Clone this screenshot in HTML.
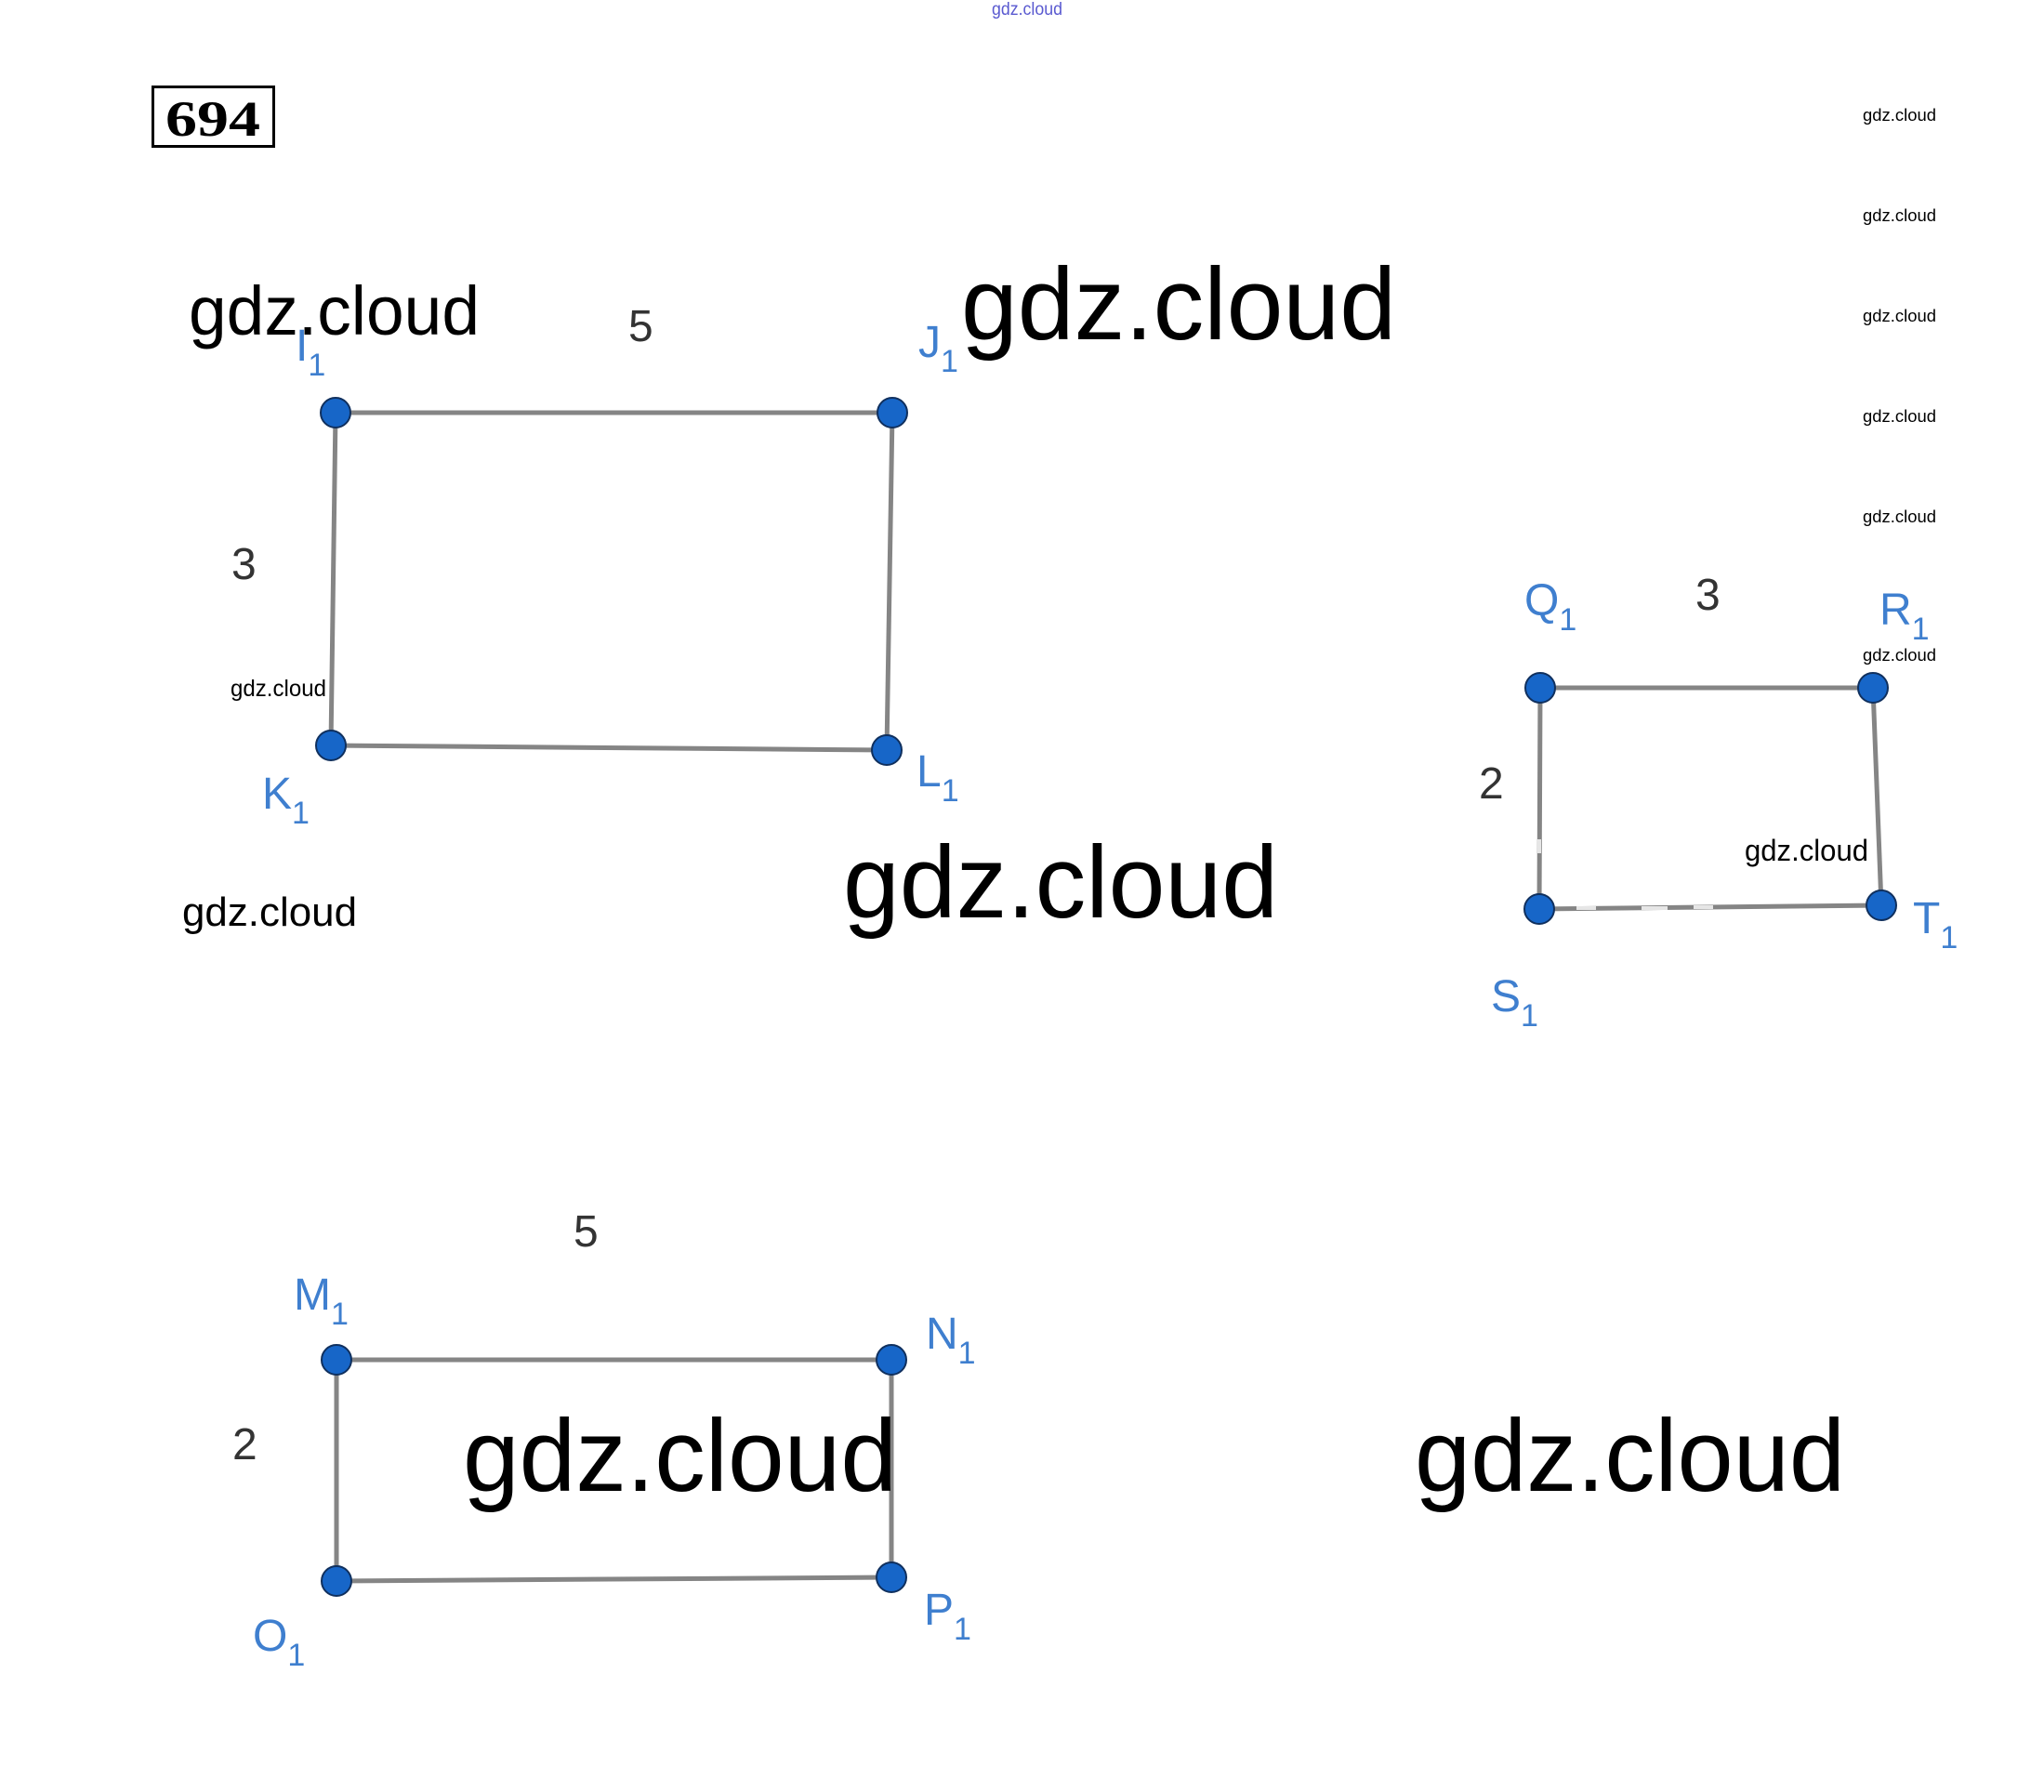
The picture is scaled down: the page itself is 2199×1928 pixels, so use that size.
<!DOCTYPE html>
<html><head><meta charset="utf-8"><style>
html,body{margin:0;padding:0;background:#fff;}
svg{display:block;}
.w{font-family:"Liberation Sans",sans-serif;fill:#000;}
.n{font-family:"Liberation Sans",sans-serif;fill:#333;font-size:48px;}
.b{font-family:"Liberation Sans",sans-serif;fill:#3f7fcf;font-size:48px;}
.s{font-size:34px;}
</style></head><body>
<svg width="2199" height="1928" viewBox="0 0 2199 1928" xmlns="http://www.w3.org/2000/svg">
<rect width="2199" height="1928" fill="#fff"/>
<text x="1067" y="16" font-family="Liberation Sans,sans-serif" font-size="19" fill="#5a5ad0" textLength="76" lengthAdjust="spacingAndGlyphs">gdz.cloud</text>
<rect x="164.5" y="93.5" width="130" height="64" fill="none" stroke="#000" stroke-width="3"/>
<text x="178" y="146" font-family="Liberation Serif,serif" font-weight="bold" font-size="54" textLength="102" lengthAdjust="spacingAndGlyphs">694</text>

<g stroke="#858585" stroke-width="5" fill="none">
<path d="M361 444 L960 444 L954 807 L356 802 Z"/>
<path d="M1657 740 L2015 740 L2024 974 L1656 978 Z"/>
<path d="M362 1463 L959 1463 L959 1697 L362 1701 Z"/>
</g>
<g stroke="#e6e6e6" stroke-width="4">
<line x1="1696" y1="977" x2="1717" y2="977"/>
<line x1="1766" y1="977" x2="1794" y2="977"/>
<line x1="1822" y1="976" x2="1843" y2="976"/>
<line x1="1656" y1="903" x2="1656" y2="918"/>
</g>
<g fill="#1766c8" stroke="#10305e" stroke-width="2">
<circle cx="361" cy="444" r="16"/><circle cx="960" cy="444" r="16"/>
<circle cx="356" cy="802" r="16"/><circle cx="954" cy="807" r="16"/>
<circle cx="1657" cy="740" r="16"/><circle cx="2015" cy="740" r="16"/>
<circle cx="1656" cy="978" r="16"/><circle cx="2024" cy="974" r="16"/>
<circle cx="362" cy="1463" r="16"/><circle cx="959" cy="1463" r="16"/>
<circle cx="362" cy="1701" r="16"/><circle cx="959" cy="1697" r="16"/>
</g>

<text class="n" x="676" y="367">5</text>
<text class="n" x="249" y="623">3</text>
<text class="n" x="1824" y="656">3</text>
<text class="n" x="1591" y="859">2</text>
<text class="n" x="617" y="1341">5</text>
<text class="n" x="250" y="1570">2</text>

<text class="b" x="318" y="388">I<tspan class="s" dy="16">1</tspan></text>
<text class="b" x="988" y="384">J<tspan class="s" dy="16">1</tspan></text>
<text class="b" x="282" y="870">K<tspan class="s" dy="16">1</tspan></text>
<text class="b" x="986" y="846">L<tspan class="s" dy="16">1</tspan></text>
<text class="b" x="1640" y="662">Q<tspan class="s" dy="16">1</tspan></text>
<text class="b" x="2022" y="672">R<tspan class="s" dy="16">1</tspan></text>
<text class="b" x="1604" y="1088">S<tspan class="s" dy="16">1</tspan></text>
<text class="b" x="2058" y="1004">T<tspan class="s" dy="16">1</tspan></text>
<text class="b" x="316" y="1409">M<tspan class="s" dy="16">1</tspan></text>
<text class="b" x="996" y="1451">N<tspan class="s" dy="16">1</tspan></text>
<text class="b" x="272" y="1776">O<tspan class="s" dy="16">1</tspan></text>
<text class="b" x="994" y="1748">P<tspan class="s" dy="16">1</tspan></text>

<g class="w">
<text x="203" y="360" font-size="74" textLength="313" lengthAdjust="spacingAndGlyphs">gdz.cloud</text>
<text x="1034" y="365" font-size="110" textLength="468" lengthAdjust="spacingAndGlyphs">gdz.cloud</text>
<text x="248" y="749" font-size="25" textLength="103" lengthAdjust="spacingAndGlyphs">gdz.cloud</text>
<text x="196" y="996" font-size="44" textLength="188" lengthAdjust="spacingAndGlyphs">gdz.cloud</text>
<text x="907" y="987" font-size="110" textLength="468" lengthAdjust="spacingAndGlyphs">gdz.cloud</text>
<text x="1877" y="926" font-size="32" textLength="133" lengthAdjust="spacingAndGlyphs">gdz.cloud</text>
<text x="498" y="1604" font-size="110" textLength="467" lengthAdjust="spacingAndGlyphs">gdz.cloud</text>
<text x="1522" y="1604" font-size="110" textLength="463" lengthAdjust="spacingAndGlyphs">gdz.cloud</text>
<text x="2004" y="130" font-size="18" textLength="79" lengthAdjust="spacingAndGlyphs">gdz.cloud</text>
<text x="2004" y="238" font-size="18" textLength="79" lengthAdjust="spacingAndGlyphs">gdz.cloud</text>
<text x="2004" y="346" font-size="18" textLength="79" lengthAdjust="spacingAndGlyphs">gdz.cloud</text>
<text x="2004" y="454" font-size="18" textLength="79" lengthAdjust="spacingAndGlyphs">gdz.cloud</text>
<text x="2004" y="562" font-size="18" textLength="79" lengthAdjust="spacingAndGlyphs">gdz.cloud</text>
<text x="2004" y="711" font-size="18" textLength="79" lengthAdjust="spacingAndGlyphs">gdz.cloud</text>
</g>
</svg>
</body></html>
